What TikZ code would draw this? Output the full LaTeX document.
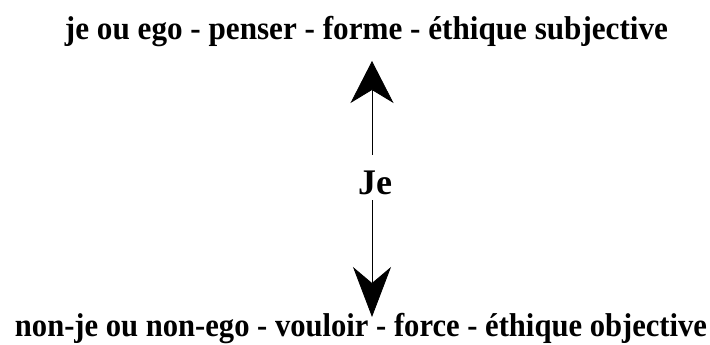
\documentclass[tikz,border=0pt]{standalone}
\usepackage{fontspec}
\usepackage{graphicx}
\setmainfont{Liberation Serif}
\usetikzlibrary{arrows.meta}
\begin{document}
\begin{tikzpicture}[x=1pt,y=1pt,
  label/.style={font=\bfseries\fontsize{33}{38}\selectfont, inner sep=0pt, anchor=base},
  center/.style={font=\bfseries\fontsize{36}{40}\selectfont, inner sep=0pt, anchor=base, text height=40pt, text depth=5pt},
  conn/.style={line width=0.8pt, black}]
\useasboundingbox (0,0) rectangle (710,345);
\node[label] (top) at (366.5,305) {\resizebox{603pt}{\height}{je ou ego - penser - forme - éthique subjective}};
\node[label] (bot) at (361,8) {\resizebox{692pt}{\height}{non-je ou non-ego - vouloir - force - éthique objective}};
\node[center] (je) at (375,150) {Je};
\coordinate (ttip) at (372,284);
\coordinate (btip) at (372,28);
\draw[conn,-{Stealth[length=42pt,width=43pt,inset=13pt]}] (je.north -| ttip) -- (ttip);
\draw[conn,-{Stealth[length=50pt,width=38pt,inset=16pt]}] (je.south -| btip) -- (btip);
\end{tikzpicture}
\end{document}
